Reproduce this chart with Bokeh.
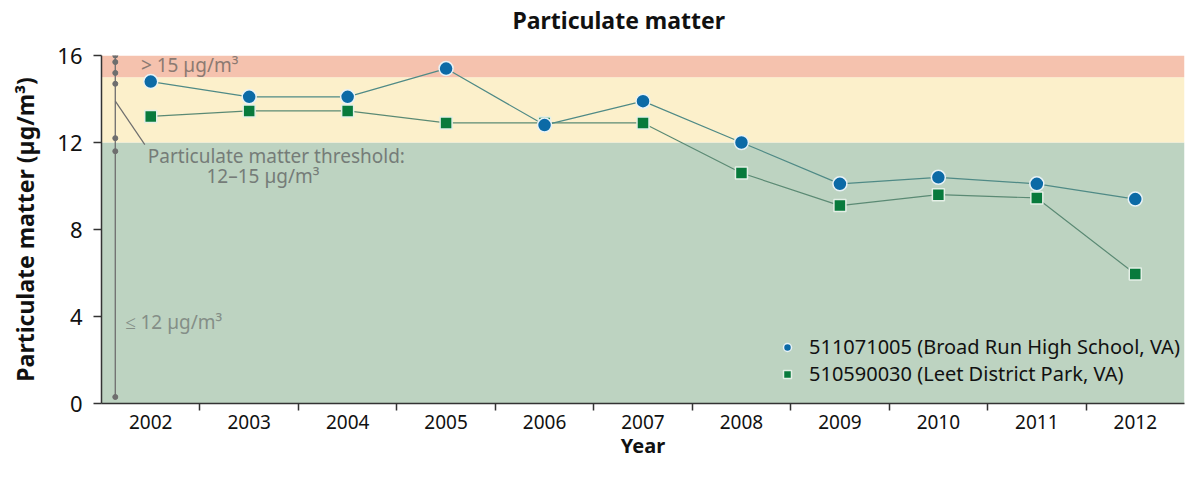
from bokeh.plotting import figure
from bokeh.models import (Range1d, FixedTicker, BoxAnnotation, Label, Legend, LegendItem, Title)
from bokeh.embed import file_html
from bokeh.resources import INLINE

years = [2002, 2003, 2004, 2005, 2006, 2007, 2008, 2009, 2010, 2011, 2012]
broad_run = [14.8, 14.1, 14.1, 15.4, 12.8, 13.9, 12.0, 10.1, 10.4, 10.1, 9.4]
leet_park = [13.2, 13.45, 13.45, 12.9, 12.9, 12.9, 10.6, 9.1, 9.6, 9.45, 5.95]
series_names = ["511071005 (Broad Run High School, VA)", "510590030 (Leet District Park, VA)"]
y_ticks = [0, 4, 8, 12, 16]
band_edges = [0, 12, 15, 16]
bracket_dots = [16.0, 15.7, 15.2, 14.7, 12.2, 11.6, 0.3]

FONT = "Noto Sans"
W, H = 1186, 461

p = figure(width=W, height=H, output_backend="svg", toolbar_location=None,
           x_range=Range1d(years[0] - 0.5, years[-1] + 0.5),
           y_range=Range1d(band_edges[0], band_edges[-1]),
           min_border_left=101, min_border_right=2, min_border_top=0, min_border_bottom=0)
p.outline_line_color = None
p.background_fill_color = "white"
p.border_fill_color = "white"
p.grid.visible = False

# spacer between title and frame, then the title itself
p.add_layout(Title(text=" ", text_font_size="1px", standoff=16), "above")
p.add_layout(Title(text="Particulate matter", align="left", offset=411, standoff=2,
                   text_font=FONT, text_font_size="23px", text_font_style="bold",
                   text_color="#111111"), "above")

# background bands
band_colors = ["#bdd3c1", "#fcf0cb", "#f5c2ae"]
for i, c in enumerate(band_colors):
    p.add_layout(BoxAnnotation(bottom=band_edges[i], top=band_edges[i + 1],
                               fill_color=c, fill_alpha=1, line_color=None, level="underlay"))

# axes
xa = p.xaxis[0]
xa.ticker = FixedTicker(ticks=years, minor_ticks=[y + 0.5 for y in years[:-1]])
xa.major_label_overrides = {y: str(y) for y in years}
xa.major_tick_line_color = None
xa.major_tick_in = 0
xa.major_tick_out = 0
xa.minor_tick_in = 0
xa.minor_tick_out = 7
xa.minor_tick_line_color = "#333333"
xa.minor_tick_line_width = 1.5
xa.axis_line_color = "#333333"
xa.axis_line_width = 1.5
xa.major_label_text_font = FONT
xa.major_label_text_font_size = "19px"
xa.major_label_text_color = "#111111"
xa.major_label_standoff = 4
xa.axis_label = "Year"
xa.axis_label_text_font = FONT
xa.axis_label_text_font_size = "20px"
xa.axis_label_text_font_style = "bold"
xa.axis_label_text_color = "#111111"
xa.axis_label_standoff = 0

ya = p.yaxis[0]
ya.ticker = FixedTicker(ticks=y_ticks)
ya.major_tick_in = 0
ya.major_tick_out = 8
ya.major_tick_line_color = "#333333"
ya.major_tick_line_width = 1.5
ya.minor_tick_line_color = None
ya.axis_line_color = "#333333"
ya.axis_line_width = 1.5
ya.major_label_text_font = FONT
ya.major_label_text_font_size = "22px"
ya.major_label_text_color = "#111111"
ya.major_label_standoff = 11
ya.axis_label = "Particulate matter (µg/m³)"
ya.axis_label_text_font = FONT
ya.axis_label_text_font_size = "23px"
ya.axis_label_text_font_style = "bold"
ya.axis_label_text_color = "#111111"
ya.axis_label_standoff = 13

# threshold annotation
ann_x = years[0] - 0.36
p.line([ann_x, ann_x], [band_edges[0] + 0.2, band_edges[-1]], line_color="#6e6e6e", line_width=1.3)
p.scatter([ann_x] * len(bracket_dots), bracket_dots, size=5, marker="circle",
          fill_color="#6e6e6e", line_color="#6e6e6e")
p.line([ann_x, years[0] - 0.06], [13.9, 11.9], line_color="#6e6e6e", line_width=1.2)

lab_kw = dict(text_font=FONT, text_font_size="19px", text_baseline="middle")
p.add_layout(Label(x=years[0] - 0.1, y=15.55, text="> 15 µg/m³", text_color="#8c7a72", **lab_kw))
p.add_layout(Label(x=years[0] - 0.03, y=11.36, text="Particulate matter threshold:",
                   text_color="#757c78", **lab_kw))
p.add_layout(Label(x=years[1] + 0.14, y=10.45, text="12–15 µg/m³", text_align="center",
                   text_color="#757c78", **lab_kw))
p.add_layout(Label(x=years[0] - 0.26, y=3.77, text="≤ 12 µg/m³", text_color="#848e87", **lab_kw))

# series
p.line(years, leet_park, line_color="#5b8a74", line_width=1.2)
p.line(years, broad_run, line_color="#4f8a86", line_width=1.2)
r2 = p.scatter(years, leet_park, marker="square", size=12, fill_color="#087a3c",
               line_color="#e4efe6", line_width=1.5)
r1 = p.scatter(years, broad_run, marker="circle", size=14, fill_color="#0c6aa6",
               line_color="#e8f2f6", line_width=1.5)

legend = Legend(items=[LegendItem(label=series_names[0], renderers=[r1]),
                       LegendItem(label=series_names[1], renderers=[r2])],
                location=(676, 16))
legend.background_fill_alpha = 0
legend.border_line_color = None
legend.label_text_font = FONT
legend.label_text_font_size = "20px"
legend.label_text_line_height = 1.0
legend.label_text_color = "#111111"
legend.label_height = 22
legend.glyph_height = 22
legend.glyph_width = 20
legend.spacing = 0
legend.padding = 0
legend.margin = 0
legend.label_standoff = 12
p.add_layout(legend)

open("out.html", "w").write(file_html(p, INLINE))
